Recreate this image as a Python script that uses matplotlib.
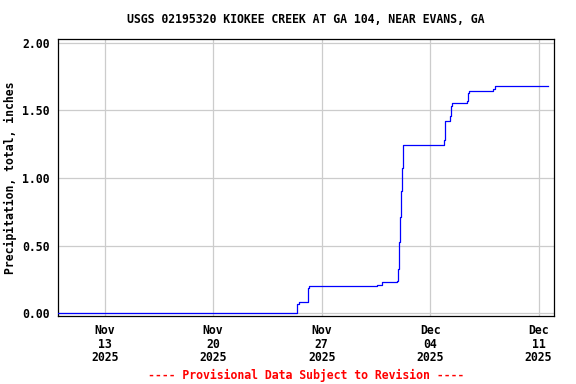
import matplotlib
matplotlib.use("Agg")
import matplotlib.pyplot as plt
import matplotlib.dates as mdates
import pandas as pd

title = "USGS 02195320 KIOKEE CREEK AT GA 104, NEAR EVANS, GA"
ylabel = "Precipitation, total, inches"
footer = "---- Provisional Data Subject to Revision ----"

times = [
    "2025-11-10 00:00", "2025-11-25 10:00", "2025-11-25 12:30", "2025-11-26 03:00",
    "2025-11-26 05:00", "2025-11-30 13:00", "2025-11-30 21:00", "2025-12-01 20:00",
    "2025-12-01 22:00", "2025-12-01 23:30", "2025-12-02 01:00", "2025-12-02 02:30",
    "2025-12-02 04:00", "2025-12-02 05:30", "2025-12-04 22:00", "2025-12-04 23:30",
    "2025-12-05 07:30", "2025-12-05 09:00", "2025-12-05 10:00", "2025-12-06 08:30",
    "2025-12-06 10:00", "2025-12-06 11:45", "2025-12-08 02:00", "2025-12-08 04:30",
    "2025-12-11 15:00",
]
values = [
    0.00, 0.07, 0.08, 0.19,
    0.20, 0.21, 0.23, 0.24,
    0.33, 0.53, 0.71, 0.90,
    1.07, 1.24, 1.28, 1.42,
    1.46, 1.53, 1.55, 1.57,
    1.63, 1.64, 1.66, 1.68,
    1.68,
]
tick_dates = ["2025-11-13", "2025-11-20", "2025-11-27", "2025-12-04", "2025-12-11"]
tick_labels = ["Nov\n13\n2025", "Nov\n20\n2025", "Nov\n27\n2025", "Dec\n04\n2025", "Dec\n11\n2025"]
yticks = [0.0, 0.5, 1.0, 1.5, 2.0]
ytick_labels = ["0.00", "0.50", "1.00", "1.50", "2.00"]

x = pd.to_datetime(times)
font = {"family": "DejaVu Sans Mono", "weight": "bold", "size": 8.3}

fig = plt.figure(figsize=(5.76, 3.84), dpi=100)
ax = fig.add_axes([0.101, 0.177, 0.861, 0.721])
ax.plot(x, values, color="#0000ff", lw=0.9, drawstyle="steps-post", zorder=3)

ax.set_xlim(pd.Timestamp("2025-11-10 00:00"), pd.Timestamp("2025-12-12 00:00"))
ax.set_ylim(-0.02, 2.025)
ax.set_xticks(pd.to_datetime(tick_dates))
ax.set_xticklabels(tick_labels, fontdict=font, linespacing=1.05)
ax.set_yticks(yticks)
ax.set_yticklabels(ytick_labels, fontdict=font)
ax.tick_params(length=0, pad=6)
ax.grid(True, color="#cccccc", lw=0.9)
ax.set_axisbelow(True)
for s in ax.spines.values():
    s.set_linewidth(0.9)
    s.set_color("black")

ax.set_ylabel(ylabel, fontdict=font)
ax.yaxis.set_label_coords(-0.084, 0.5)
fig.text(0.531, 0.95, title, ha="center", va="center", **font)
fig.text(0.531, 0.023, footer, ha="center", va="center", color="red", **font)

fig.savefig("out.png", dpi=100)
